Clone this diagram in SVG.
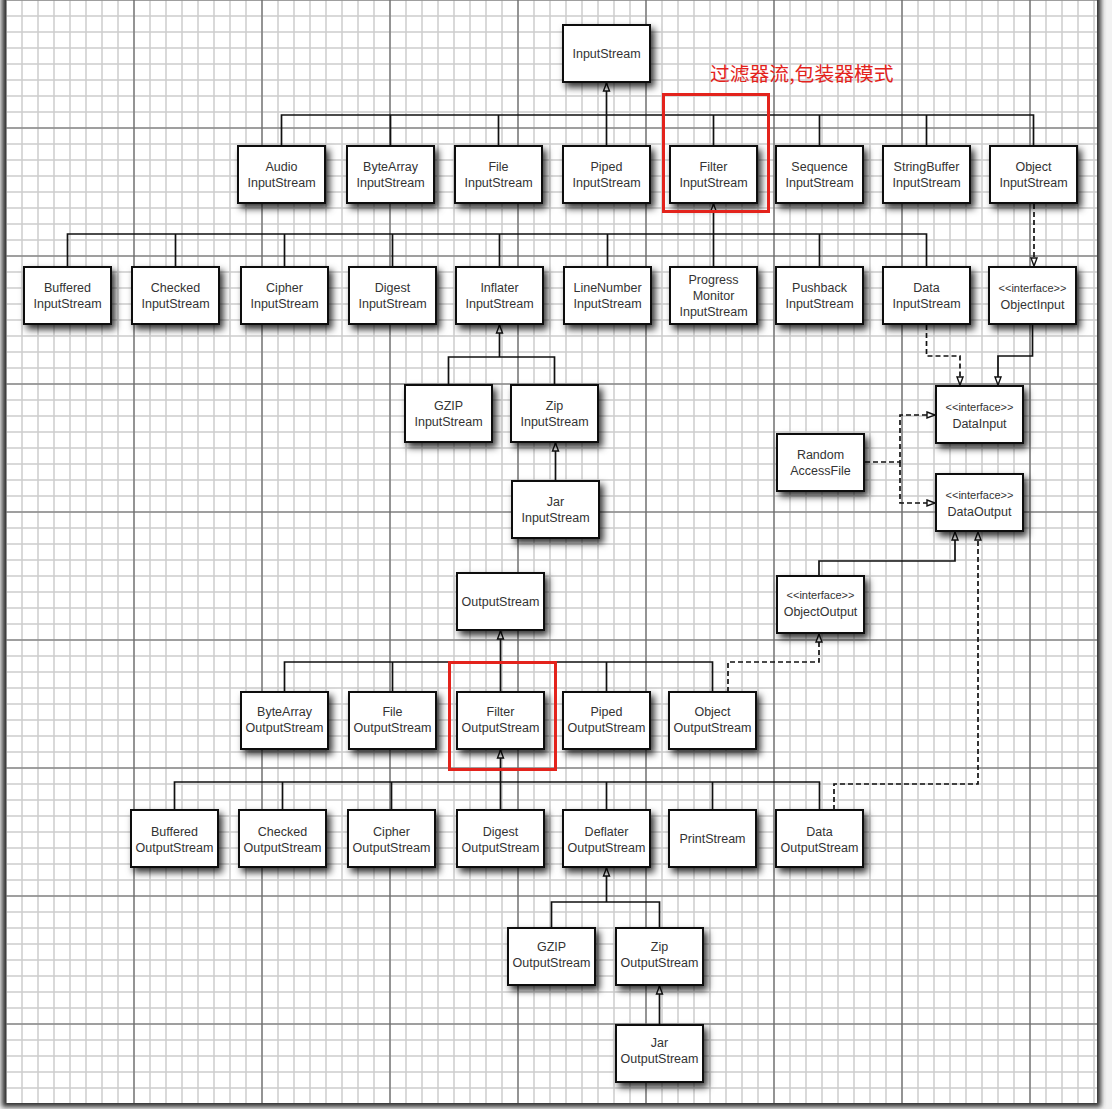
<svg xmlns="http://www.w3.org/2000/svg" width="1112" height="1109" viewBox="0 0 1112 1109">
<defs>
<style>
.node rect{fill:#fff;stroke:#111;stroke-width:2;filter:url(#sh)}
.node text{font-family:"Liberation Sans",Arial,sans-serif;font-size:12.5px;fill:#333;text-anchor:middle}
.node text.st{font-size:11px}
.ln{fill:none;stroke:#111;stroke-width:1.7}
.ds{stroke-dasharray:5 3}
.arr{marker-end:url(#tri)}
.red{fill:none;stroke:#e3231c;stroke-width:3}
</style>
<filter id="sh" x="-25%" y="-30%" width="160%" height="170%">
<feDropShadow dx="3.5" dy="4.5" stdDeviation="3.8" flood-color="#000" flood-opacity="0.8"/>
</filter>
<filter id="pg" x="-5%" y="-5%" width="110%" height="110%">
<feGaussianBlur stdDeviation="2.5"/>
</filter>
<pattern id="minor" patternUnits="userSpaceOnUse" x="-2" y="-8" width="16" height="16">
<path d="M8,0V16M0,8H16" stroke="#cdcdcd" stroke-width="1.5" fill="none"/>
</pattern>
<pattern id="major" patternUnits="userSpaceOnUse" x="70" y="64" width="128" height="128">
<path d="M64,0V128M0,64H128" stroke="#666" stroke-width="1.2" fill="none"/>
</pattern>
<marker id="tri" markerUnits="userSpaceOnUse" markerWidth="12" markerHeight="10" refX="10" refY="5" orient="auto" overflow="visible">
<path d="M2,2 L10,5 L2,8 Z" fill="#fff" stroke="#111" stroke-width="1.4" stroke-dasharray="none"/>
</marker>
</defs>

<g id="page">
<rect x="0" y="0" width="1112" height="1109" fill="#f2f2f2"/>
<rect x="2" y="-10" width="1099" height="1117" fill="#333" filter="url(#pg)"/>
<rect x="6" y="-10" width="1091" height="1113" fill="#fff"/>
<rect x="6" y="-10" width="1091" height="1113" fill="url(#minor)"/>
<rect x="6" y="-10" width="1091" height="1113" fill="url(#major)"/>
</g>

<g id="connectors">
<path class="ln" d="M281.5,146V115H1033.5V146M390.5,115V146M498.5,115V146M713.5,115V146M819.5,115V146M926.5,115V146"/>
<path class="ln arr" d="M606.5,146V83"/>
<path class="ln" d="M67.5,267V234H926.5V267M175.5,234V267M284.5,234V267M392.5,234V267M499.5,234V267M607.5,234V267M819.5,234V267"/>
<path class="ln arr" d="M713.5,267V204"/>
<path class="ln ds arr" d="M1034,204V266"/>
<path class="ln ds arr" d="M926.5,325V356H960V385"/>
<path class="ln arr" d="M1032.5,325V356H998V385"/>
<path class="ln ds arr" d="M865,462H900V415H935"/>
<path class="ln ds arr" d="M900,462V503H935"/>
<path class="ln" d="M448.5,385V357H554.5V385"/>
<path class="ln arr" d="M499.5,357V325"/>
<path class="ln arr" d="M555.5,481V443"/>
<path class="ln" d="M284.5,692V662H712.5V692M392.5,662V692M606.5,662V692"/>
<path class="ln arr" d="M500.5,692V631"/>
<path class="ln ds arr" d="M728,692V662H819V634"/>
<path class="ln arr" d="M819,576V561H955V532"/>
<path class="ln ds arr" d="M834,810V784H978V532"/>
<path class="ln" d="M174.5,810V782H819.5V810M282.5,782V810M391.5,782V810M606.5,782V810M712.5,782V810"/>
<path class="ln arr" d="M500.5,810V750"/>
<path class="ln" d="M551.5,928V902H659.5V928"/>
<path class="ln arr" d="M606.5,902V868"/>
<path class="ln arr" d="M659.5,1025V986"/>
</g>

<g id="n-InputStream" class="node"><rect x="563" y="25" width="87" height="57"/><text x="606.5" y="58">InputStream</text></g>

<g id="n-AudioInputStream" class="node"><rect x="238" y="146" width="87" height="57"/><text x="281.5" y="171">Audio</text><text x="281.5" y="187">InputStream</text></g>
<g id="n-ByteArrayInputStream" class="node"><rect x="347" y="146" width="87" height="57"/><text x="390.5" y="171">ByteArray</text><text x="390.5" y="187">InputStream</text></g>
<g id="n-FileInputStream" class="node"><rect x="455" y="146" width="87" height="57"/><text x="498.5" y="171">File</text><text x="498.5" y="187">InputStream</text></g>
<g id="n-PipedInputStream" class="node"><rect x="563" y="146" width="87" height="57"/><text x="606.5" y="171">Piped</text><text x="606.5" y="187">InputStream</text></g>
<g id="n-FilterInputStream" class="node"><rect x="670" y="146" width="87" height="57"/><text x="713.5" y="171">Filter</text><text x="713.5" y="187">InputStream</text></g>
<g id="n-SequenceInputStream" class="node"><rect x="776" y="146" width="87" height="57"/><text x="819.5" y="171">Sequence</text><text x="819.5" y="187">InputStream</text></g>
<g id="n-StringBufferInputStream" class="node"><rect x="883" y="146" width="87" height="57"/><text x="926.5" y="171">StringBuffer</text><text x="926.5" y="187">InputStream</text></g>
<g id="n-ObjectInputStream" class="node"><rect x="990" y="146" width="87" height="57"/><text x="1033.5" y="171">Object</text><text x="1033.5" y="187">InputStream</text></g>

<g id="n-BufferedInputStream" class="node"><rect x="24" y="267" width="87" height="57"/><text x="67.5" y="292">Buffered</text><text x="67.5" y="308">InputStream</text></g>
<g id="n-CheckedInputStream" class="node"><rect x="132" y="267" width="87" height="57"/><text x="175.5" y="292">Checked</text><text x="175.5" y="308">InputStream</text></g>
<g id="n-CipherInputStream" class="node"><rect x="241" y="267" width="87" height="57"/><text x="284.5" y="292">Cipher</text><text x="284.5" y="308">InputStream</text></g>
<g id="n-DigestInputStream" class="node"><rect x="349" y="267" width="87" height="57"/><text x="392.5" y="292">Digest</text><text x="392.5" y="308">InputStream</text></g>
<g id="n-InflaterInputStream" class="node"><rect x="456" y="267" width="87" height="57"/><text x="499.5" y="292">Inflater</text><text x="499.5" y="308">InputStream</text></g>
<g id="n-LineNumberInputStream" class="node"><rect x="564" y="267" width="87" height="57"/><text x="607.5" y="292">LineNumber</text><text x="607.5" y="308">InputStream</text></g>
<g id="n-ProgressMonitorInputStream" class="node"><rect x="670" y="267" width="87" height="57"/><text x="713.5" y="283.5">Progress</text><text x="713.5" y="299.5">Monitor</text><text x="713.5" y="315.5">InputStream</text></g>
<g id="n-PushbackInputStream" class="node"><rect x="776" y="267" width="87" height="57"/><text x="819.5" y="292">Pushback</text><text x="819.5" y="308">InputStream</text></g>
<g id="n-DataInputStream" class="node"><rect x="883" y="267" width="87" height="57"/><text x="926.5" y="292">Data</text><text x="926.5" y="308">InputStream</text></g>
<g id="n-ObjectInput" class="node"><rect x="989" y="267" width="87" height="57"/><text class="st" x="1032.5" y="292">&lt;&lt;interface&gt;&gt;</text><text x="1032.5" y="309">ObjectInput</text></g>

<g id="n-GZIPInputStream" class="node"><rect x="405" y="385" width="87" height="57"/><text x="448.5" y="410">GZIP</text><text x="448.5" y="426">InputStream</text></g>
<g id="n-ZipInputStream" class="node"><rect x="511" y="385" width="87" height="57"/><text x="554.5" y="410">Zip</text><text x="554.5" y="426">InputStream</text></g>
<g id="n-JarInputStream" class="node"><rect x="512" y="481" width="87" height="57"/><text x="555.5" y="506">Jar</text><text x="555.5" y="522">InputStream</text></g>

<g id="n-DataInput" class="node"><rect x="936" y="386" width="87" height="57"/><text class="st" x="979.5" y="411">&lt;&lt;interface&gt;&gt;</text><text x="979.5" y="428">DataInput</text></g>
<g id="n-RandomAccessFile" class="node"><rect x="777" y="434" width="87" height="57"/><text x="820.5" y="459">Random</text><text x="820.5" y="475">AccessFile</text></g>
<g id="n-DataOutput" class="node"><rect x="936" y="474" width="87" height="57"/><text class="st" x="979.5" y="499">&lt;&lt;interface&gt;&gt;</text><text x="979.5" y="516">DataOutput</text></g>

<g id="n-OutputStream" class="node"><rect x="457" y="573" width="87" height="57"/><text x="500.5" y="606">OutputStream</text></g>
<g id="n-ObjectOutput" class="node"><rect x="777" y="576" width="87" height="57"/><text class="st" x="820.5" y="599">&lt;&lt;interface&gt;&gt;</text><text x="820.5" y="616">ObjectOutput</text></g>

<g id="n-ByteArrayOutputStream" class="node"><rect x="241" y="692" width="87" height="57"/><text x="284.5" y="716">ByteArray</text><text x="284.5" y="732">OutputStream</text></g>
<g id="n-FileOutputStream" class="node"><rect x="349" y="692" width="87" height="57"/><text x="392.5" y="716">File</text><text x="392.5" y="732">OutputStream</text></g>
<g id="n-FilterOutputStream" class="node"><rect x="457" y="692" width="87" height="57"/><text x="500.5" y="716">Filter</text><text x="500.5" y="732">OutputStream</text></g>
<g id="n-PipedOutputStream" class="node"><rect x="563" y="692" width="87" height="57"/><text x="606.5" y="716">Piped</text><text x="606.5" y="732">OutputStream</text></g>
<g id="n-ObjectOutputStream" class="node"><rect x="669" y="692" width="87" height="57"/><text x="712.5" y="716">Object</text><text x="712.5" y="732">OutputStream</text></g>

<g id="n-BufferedOutputStream" class="node"><rect x="131" y="810" width="87" height="57"/><text x="174.5" y="836">Buffered</text><text x="174.5" y="852">OutputStream</text></g>
<g id="n-CheckedOutputStream" class="node"><rect x="239" y="810" width="87" height="57"/><text x="282.5" y="836">Checked</text><text x="282.5" y="852">OutputStream</text></g>
<g id="n-CipherOutputStream" class="node"><rect x="348" y="810" width="87" height="57"/><text x="391.5" y="836">Cipher</text><text x="391.5" y="852">OutputStream</text></g>
<g id="n-DigestOutputStream" class="node"><rect x="457" y="810" width="87" height="57"/><text x="500.5" y="836">Digest</text><text x="500.5" y="852">OutputStream</text></g>
<g id="n-DeflaterOutputStream" class="node"><rect x="563" y="810" width="87" height="57"/><text x="606.5" y="836">Deflater</text><text x="606.5" y="852">OutputStream</text></g>
<g id="n-PrintStream" class="node"><rect x="669" y="810" width="87" height="57"/><text x="712.5" y="843">PrintStream</text></g>
<g id="n-DataOutputStream" class="node"><rect x="776" y="810" width="87" height="57"/><text x="819.5" y="836">Data</text><text x="819.5" y="852">OutputStream</text></g>

<g id="n-GZIPOutputStream" class="node"><rect x="508" y="928" width="87" height="57"/><text x="551.5" y="951">GZIP</text><text x="551.5" y="967">OutputStream</text></g>
<g id="n-ZipOutputStream" class="node"><rect x="616" y="928" width="87" height="57"/><text x="659.5" y="951">Zip</text><text x="659.5" y="967">OutputStream</text></g>
<g id="n-JarOutputStream" class="node"><rect x="616" y="1025" width="87" height="57"/><text x="659.5" y="1047">Jar</text><text x="659.5" y="1063">OutputStream</text></g>

<g id="annotations">
<rect class="red" x="663.5" y="94.5" width="105" height="117"/>
<rect class="red" x="449.5" y="662.5" width="106" height="107"/>
<text x="710" y="81" font-family="'Noto Sans CJK SC','Noto Sans',sans-serif" font-size="19.8" fill="#e3231c">过滤器流,包装器模式</text>
</g>
</svg>
